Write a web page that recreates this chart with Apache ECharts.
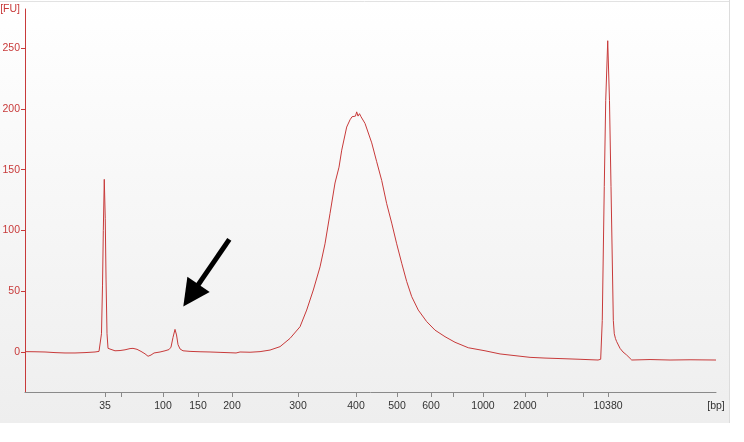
<!DOCTYPE html>
<html>
<head>
<meta charset="utf-8">
<script src="https://cdn.jsdelivr.net/npm/echarts@6/dist/echarts.min.js"></script>
<style>html,body{margin:0;padding:0;background:#fff}#c{width:744px;height:442px}</style>
</head>
<body>
<div id="c"></div>
<script>
// Migration time (s) and fluorescence (FU)
const migrationTime = [40,41.25,42.5,43.75,45,46.25,47.5,48.75,49.25,49.44,49.56,49.69,49.79,49.91,50.03,50.13,50.25,50.38,50.63,51.25,51.88,52.5,53.13,53.5,54,54.5,55,55.38,55.56,55.75,56.13,56.88,57.5,58,58.25,58.5,58.75,58.94,59.13,59.38,59.75,60.63,61.88,63.13,64.38,65.63,66.38,66.88,68.13,69.38,70.63,71.88,73.13,74.38,75.21,76.04,76.88,77.5,78.13,78.75,79.25,79.59,80.21,80.63,80.88,81.13,81.31,81.46,81.63,81.81,82,82.5,83.34,83.96,84.59,85.21,85.84,86.46,87.09,87.71,88.34,89.16,90.21,91.25,92.5,93.75,95.41,97.5,99.38,101.25,103.13,105,107.25,109.38,111.63,111.96,112.16,112.41,112.59,112.84,113.06,113.25,113.54,113.66,113.81,113.96,114.13,114.38,114.75,115.21,115.84,118.13,120.63,123.13,126.375];
const fluorescence = [0.3,0.2,0,-0.5,-0.8,-0.8,-0.5,0,0.5,2,15,55,100,142,110,60,15,3,1.5,1,1.2,1.8,2.8,3,2.2,0.5,-1.5,-3.5,-3.8,-2.5,-0.8,0,1,2,4,12,18.6,14,6,2.5,1,0.5,0.2,0,-0.3,-0.6,-0.8,0,-0.2,0.3,1.6,4.4,11.2,20.8,34.5,51,70,89,114,139,152,166,185,191,193.5,195,194,197.5,194,196,193.5,188,172,156.5,141,122,106,89,73,58,45.5,34.5,25,18,12.6,8,3.5,1,-1.6,-3,-4.4,-5,-5.5,-6,-6.6,-6,26,136,207,256,207,136,26,15,11,8.5,9,3,0,-2.5,-6.6,-6.2,-6.6,-6.4,-6.6];
// Ladder (bp) and their migration times
const ladderBp    = [35,50,100,150,200,300,400,500,600,700,1000,2000,3000,7000,10380];
const ladderTime  = [50.0,52.0,57.25,61.63,65.88,74.13,81.38,86.5,90.75,93.5,97.25,102.5,105.25,109.75,112.88];
const ladderShown = [true,false,true,true,true,true,true,true,true,false,true,true,false,false,true];
const yTicks = [0,50,100,150,200,250];
const arrowFrom = [65.54, 92.7];
const arrowTo = [60.74, 46.5];
const xMin = 40, xMax = 126.375;

const traceData = migrationTime.map((t,i)=>[t, fluorescence[i]]);
const labelTimes = ladderTime.filter((t,i)=>ladderShown[i]).concat([xMax]);

const chart = echarts.init(document.getElementById('c'), null, {renderer:'canvas'});
const red = '#c83a3a';
const font = "'Liberation Sans', Arial, sans-serif";
chart.setOption({
  animation:false,
  backgroundColor:'#ffffff',
  graphic:[
    {type:'rect', z:-100, silent:true, shape:{x:0,y:0,width:729,height:423},
     style:{fill:new echarts.graphic.LinearGradient(0,0,0,1,[{offset:0,color:'#ffffff'},{offset:1,color:'#eeeeee'}])}},
    {type:'line', z:-99, silent:true, shape:{x1:0,y1:1.5,x2:729,y2:1.5}, style:{stroke:'#e2e2e2',lineWidth:1}},
    {type:'line', z:-99, silent:true, shape:{x1:729.5,y1:0,x2:729.5,y2:423}, style:{stroke:'#dcdcdc',lineWidth:1}}
  ],
  grid:{left:25,right:28,top:9,bottom:50,containLabel:false,outerBoundsMode:'none'},
  xAxis:{
    type:'value', min:xMin, max:xMax,
    splitLine:{show:false},
    axisLine:{show:true,onZero:false,lineStyle:{color:'#8a8a8a',width:1}},
    axisTick:{show:true,length:5,inside:false,customValues:ladderTime,lineStyle:{color:'#8a8a8a'}},
    axisLabel:{show:true,customValues:labelTimes,margin:9,color:'#333',fontFamily:font,fontSize:10.5,hideOverlap:false,
      formatter:function(v){
        if(Math.abs(v-xMax)<1e-6) return '[bp]';
        for(let i=0;i<ladderTime.length;i++){ if(Math.abs(ladderTime[i]-v)<1e-6) return String(ladderBp[i]); }
        return '';
      }}
  },
  yAxis:{
    type:'value', min:-32.9, max:282.1,
    name:'[FU]', nameLocation:'end', nameGap:0,
    nameTextStyle:{color:red,fontFamily:font,fontSize:10.5,align:'right',verticalAlign:'middle',padding:[0,5,0,0]},
    splitLine:{show:false},
    axisLine:{show:true,onZero:false,lineStyle:{color:red,width:1}},
    axisTick:{show:true,length:4,customValues:yTicks,lineStyle:{color:red}},
    axisLabel:{show:true,customValues:yTicks,margin:5,color:red,fontFamily:font,fontSize:10.5}
  },
  series:[{
    type:'line', data:traceData, showSymbol:false, symbol:'none', smooth:false,
    lineStyle:{color:red,width:1},
    markLine:{
      silent:true, animation:false,
      symbol:['none','path://M13,0 L26,28 L0,28 Z'], symbolSize:27,
      lineStyle:{color:'#000',width:5,type:'solid',cap:'butt'},
      itemStyle:{color:'#000'},
      label:{show:false},
      emphasis:{disabled:true},
      data:[[{coord:arrowFrom},{coord:arrowTo}]]
    }
  }]
});
</script>
</body>
</html>
